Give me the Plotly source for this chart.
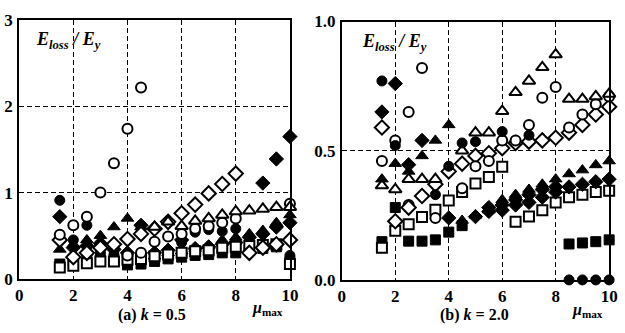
import plotly.graph_objects as go

# ---------------- panel (a) k = 0.5 ----------------
a_oc1_x = [1.5, 2, 2.5, 3, 3.5, 4, 4.5]
a_oc1_y = [0.51, 0.62, 0.72, 1.0, 1.34, 1.74, 2.22]
a_oc2_x = [4, 4.5, 5, 5.5, 6, 6.5, 7, 7.5, 8, 10]
a_oc2_y = [0.27, 0.30, 0.43, 0.49, 0.52, 0.58, 0.61, 0.65, 0.70, 0.87]
a_fc_x = [1.5, 2, 2.5, 3, 3.5, 4, 4.5, 5, 5.5, 6, 6.5, 7, 7.5, 8, 10]
a_fc_y = [0.91, 0.45, 0.62, 0.30, 0.28, 0.18, 0.20, 0.22, 0.25, 0.42, 0.54, 0.57, 0.55, 0.58, 0.27]
a_od1_x = [1.5, 2, 2.5, 3, 3.5, 4, 4.5, 5, 5.5, 6, 6.5, 7, 7.5, 8]
a_od1_y = [0.45, 0.25, 0.30, 0.36, 0.40, 0.46, 0.52, 0.58, 0.66, 0.76, 0.86, 0.99, 1.10, 1.22]
a_od2_x = [8.5, 9, 9.5, 10]
a_od2_y = [0.30, 0.36, 0.40, 0.45]
a_fd1_x = [1.5, 2, 2.5, 3, 3.5, 4, 4.5, 5, 5.5, 6, 6.5, 7, 7.5, 8, 8.5, 9, 9.5, 10]
a_fd1_y = [0.72, 0.36, 0.38, 0.41, 0.34, 0.30, 0.62, 0.30, 0.33, 0.45, 0.35, 0.37, 0.40, 0.42, 0.48, 0.52, 0.60, 0.65]
a_fd2_x = [9, 9.5, 10]
a_fd2_y = [1.11, 1.39, 1.65]
a_ft_x = [1.5, 2, 2.5, 3, 3.5, 4, 4.5, 5, 5.5, 6, 6.5, 7, 7.5, 8, 8.5, 9, 9.5, 10]
a_ft_y = [0.34, 0.40, 0.45, 0.50, 0.60, 0.70, 0.60, 0.26, 0.30, 0.32, 0.35, 0.38, 0.45, 0.48, 0.52, 0.56, 0.65, 0.74]
a_ot_x = [5, 5.5, 6, 6.5, 7, 7.5, 8, 8.5, 9, 9.5, 10]
a_ot_y = [0.60, 0.66, 0.61, 0.67, 0.70, 0.74, 0.78, 0.79, 0.81, 0.83, 0.83]
a_fs_x = [1.5, 2, 2.5, 3, 3.5, 4, 4.5, 5, 5.5, 6, 6.5, 7, 7.5, 8, 8.5, 9, 9.5, 10]
a_fs_y = [0.17, 0.20, 0.22, 0.22, 0.20, 0.16, 0.17, 0.20, 0.23, 0.25, 0.27, 0.28, 0.30, 0.30, 0.33, 0.35, 0.37, 0.20]
a_os_x = [1.5, 2, 2.5, 3, 3.5, 4, 4.5, 5, 5.5, 6, 6.5, 7, 7.5, 8, 8.5, 9, 9.5, 10]
a_os_y = [0.13, 0.15, 0.18, 0.20, 0.20, 0.22, 0.23, 0.26, 0.28, 0.30, 0.32, 0.33, 0.36, 0.37, 0.38, 0.39, 0.40, 0.17]

# ---------------- panel (b) k = 2.0 ----------------
b_fc1_x = [1.5, 2, 3.5, 4, 4.5, 5, 6, 7]
b_fc1_y = [0.77, 0.52, 0.33, 0.44, 0.53, 0.535, 0.574, 0.56]
b_fc2_x = [8.5, 9, 9.5, 10]
b_fc2_y = [0.0, 0.0, 0.0, 0.0]
b_oc_x = [1.5, 2, 2.5, 3, 3.5, 4.5, 5, 5.5, 6, 6.5, 7, 7.5, 8, 8.5, 9, 9.5, 10]
b_oc_y = [0.46, 0.54, 0.65, 0.82, 0.24, 0.355, 0.44, 0.46, 0.54, 0.54, 0.60, 0.705, 0.747, 0.59, 0.64, 0.68, 0.71]
b_oc2_x = [2.5]
b_oc2_y = [0.29]
b_fd1_x = [1.5, 2, 2.5, 3, 4, 5, 5.5, 6, 6.5, 7, 7.5, 8, 8.5, 9, 9.5, 10]
b_fd1_y = [0.65, 0.76, 0.446, 0.54, 0.24, 0.245, 0.265, 0.29, 0.31, 0.33, 0.35, 0.36, 0.36, 0.37, 0.38, 0.39]
b_fd2_x = [5.5, 6, 6.5, 7, 7.5, 8]
b_fd2_y = [0.28, 0.27, 0.29, 0.30, 0.32, 0.34]
b_od_x = [1.5, 2, 2.5, 3, 3.5, 4, 4.5, 5, 5.5, 6, 6.5, 7, 7.5, 8, 8.5, 9, 9.5, 10]
b_od_y = [0.59, 0.227, 0.28, 0.325, 0.37, 0.42, 0.45, 0.48, 0.49, 0.51, 0.53, 0.535, 0.54, 0.55, 0.57, 0.60, 0.64, 0.67]
b_ft_x = [1.5, 2, 2.5, 3, 3.5, 4, 4.5, 5, 5.5, 6, 6.5, 7, 7.5, 8, 8.5, 9, 9.5, 10]
b_ft_y = [0.39, 0.45, 0.42, 0.48, 0.54, 0.60, 0.23, 0.25, 0.27, 0.31, 0.33, 0.35, 0.37, 0.39, 0.41, 0.425, 0.445, 0.46]
b_ot_x = [1.5, 2, 2.5, 3, 3.5, 4.5, 5, 5.5, 6, 6.5, 7, 7.5, 8, 8.5, 9, 9.5, 10]
b_ot_y = [0.365, 0.35, 0.39, 0.39, 0.39, 0.50, 0.57, 0.57, 0.653, 0.726, 0.77, 0.823, 0.872, 0.70, 0.70, 0.71, 0.72]
b_fs_x = [1.5, 2, 2.5, 3, 3.5, 4, 4.5, 8.5, 9, 9.5, 10]
b_fs_y = [0.148, 0.28, 0.15, 0.15, 0.155, 0.185, 0.21, 0.139, 0.143, 0.148, 0.155]
b_os_x = [1.5, 2, 2.5, 3, 3.5, 4, 4.5, 5, 5.5, 6, 6.5, 7, 7.5, 8, 8.5, 9, 9.5, 10]
b_os_y = [0.124, 0.19, 0.215, 0.243, 0.272, 0.307, 0.34, 0.373, 0.398, 0.438, 0.225, 0.245, 0.27, 0.30, 0.32, 0.33, 0.34, 0.345]

x_ticks = [0, 2, 4, 6, 8, 10]
a_y_ticks = [0, 1, 2, 3]
b_y_ticks = [0.0, 0.5, 1.0]
b_y_labels = ["0.0", "0.5", "1.0"]

W, H = 625, 333
fig = go.Figure()

def add(xs, ys, sym, filled, panel, size=10):
    xa, ya = ("x", "y") if panel == "a" else ("x2", "y2")
    if filled:
        mk = dict(symbol=sym, size=size, color="black", line=dict(color="black", width=1))
    else:
        mk = dict(symbol=sym, size=size, color="white", line=dict(color="black", width=2))
    fig.add_trace(go.Scatter(x=xs, y=ys, mode="markers", marker=mk, xaxis=xa, yaxis=ya,
                             cliponaxis=False, showlegend=False, hoverinfo="skip"))

# panel a (filled first, open on top)
add(a_fs_x, a_fs_y, "square", True, "a")
add(a_fc_x, a_fc_y, "circle", True, "a")
add(a_fd1_x, a_fd1_y, "diamond", True, "a", 11)
add(a_fd2_x, a_fd2_y, "diamond", True, "a", 11)
add(a_ft_x, a_ft_y, "triangle-up", True, "a", 11)
add(a_os_x, a_os_y, "square", False, "a")
add(a_od1_x, a_od1_y, "diamond", False, "a", 11)
add(a_od2_x, a_od2_y, "diamond", False, "a", 11)
add(a_oc1_x, a_oc1_y, "circle", False, "a")
add(a_oc2_x, a_oc2_y, "circle", False, "a")
add(a_ot_x, a_ot_y, "triangle-up", False, "a", 11)

# panel b
add(b_fs_x, b_fs_y, "square", True, "b")
add(b_os_x, b_os_y, "square", False, "b")
add(b_oc2_x, b_oc2_y, "circle", False, "b")
add(b_od_x, b_od_y, "diamond", False, "b", 11)
add(b_oc_x, b_oc_y, "circle", False, "b")
add(b_ot_x, b_ot_y, "triangle-up", False, "b", 11)
add(b_fd2_x, b_fd2_y, "diamond", True, "b", 11)
add(b_fd1_x, b_fd1_y, "diamond", True, "b", 11)
add(b_ft_x, b_ft_y, "triangle-up", True, "b", 11)
add(b_fc1_x, b_fc1_y, "circle", True, "b")
add(b_fc2_x, b_fc2_y, "circle", True, "b")

tickfont = dict(family="Liberation Serif", size=17, color="black", weight="bold")
axis_common = dict(showline=True, linecolor="black", linewidth=2, mirror=True, ticks="",
                   showgrid=True, gridcolor="black", gridwidth=1.2, griddash="5px,3px",
                   zeroline=False, tickfont=tickfont)

fig.update_layout(
    width=W, height=H, margin=dict(l=0, r=0, t=0, b=0),
    paper_bgcolor="white", plot_bgcolor="white",
    xaxis=dict(domain=[15.5 / W, 292 / W], range=[0, 10], tickvals=x_ticks, anchor="y",
               ticklabelstandoff=0, **axis_common),
    yaxis=dict(domain=[1 - 286 / H, 1 - 12 / H], range=[0, 3], tickvals=a_y_ticks, anchor="x",
               ticklabelstandoff=1, **axis_common),
    xaxis2=dict(domain=[345 / W, 618 / W], range=[0, 10], tickvals=x_ticks, anchor="y2",
                ticklabelstandoff=0, **axis_common),
    yaxis2=dict(domain=[1 - 287.3 / H, 1 - 13.3 / H], range=[0, 1], tickvals=b_y_ticks,
                ticktext=b_y_labels, anchor="x2", ticklabelstandoff=1, **axis_common),
)

lab = dict(family="Liberation Serif", size=16, color="black", weight="bold")
elab = dict(family="Liberation Serif", size=18, color="black", weight="bold")
ann = [
    (66, 33, "<i>E</i><sub><i>loss</i></sub> <i>/ E</i><sub><i>y</i></sub>", elab),
    (399, 35, "<i>E</i><sub><i>loss</i></sub> <i>/ E</i><sub><i>y</i></sub>", elab),
    (151, 324, "(a) <i>k</i> = 0.5", lab),
    (481, 325, "(b) <i>k</i> = 2.0", lab),
    (269, 318, "<i>μ</i><sub>max</sub>", lab),
    (596, 320, "<i>μ</i><sub>max</sub>", lab),
]
for px, py, t, f in ann:
    fig.add_annotation(x=px / W, y=1 - py / H, xref="paper", yref="paper", text=t, showarrow=False,
                       xanchor="center", yanchor="middle", font=f, bgcolor="rgba(0,0,0,0)")

fig.write_html("out.html")
